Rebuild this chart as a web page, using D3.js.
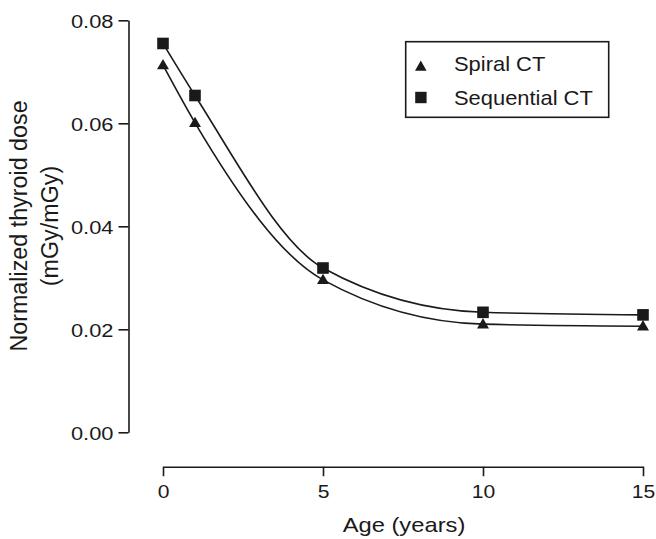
<!DOCTYPE html>
<html>
<head>
<meta charset="utf-8">
<script src="https://cdn.jsdelivr.net/npm/d3@7"></script>
<style>
  html, body { margin: 0; padding: 0; background: #fff; }
  svg { display: block; }
  text { font-family: "Liberation Sans", Arial, Helvetica, sans-serif; fill: #1a1a1a; }
</style>
</head>
<body>
<svg id="chart" width="656" height="539"></svg>
<script>
// ---- data ----
const ages = [0, 1, 5, 10, 15];
const spiralCT = [0.0713, 0.0601, 0.0296, 0.0210, 0.0206];
const sequentialCT = [0.0755, 0.0654, 0.0319, 0.0233, 0.0228];
const seriesNames = ["Spiral CT", "Sequential CT"];
const xTicks = [0, 5, 10, 15];
const yTicks = [0.00, 0.02, 0.04, 0.06, 0.08];
const xTitle = "Age (years)";
const yTitleLines = ["Normalized thyroid dose", "(mGy/mGy)"];

const svg = d3.select("#chart");
const ink = "#1a1a1a";

const x = d3.scaleLinear().domain([0, 15]).range([163, 643]);
const y = d3.scaleLinear().domain([0, 0.08]).range([432.3, 20.3]);

function stretch(sel, k) {
  sel.each(function () {
    const len = this.getComputedTextLength();
    d3.select(this).attr("textLength", len * k).attr("lengthAdjust", "spacingAndGlyphs");
  });
}

// Y axis
const yAxisG = svg.append("g").attr("transform", "translate(128.5,0)")
  .call(d3.axisLeft(y).tickValues(yTicks).tickFormat(d3.format(".2f")).tickSize(10).tickSizeOuter(0).tickPadding(5));
// X axis
const xAxisG = svg.append("g").attr("transform", "translate(0,466.7)")
  .call(d3.axisBottom(x).tickValues(xTicks).tickFormat(d3.format("d")).tickSize(9.5).tickSizeOuter(0).tickPadding(8));

[yAxisG, xAxisG].forEach(g => {
  g.select(".domain").attr("stroke", ink).attr("stroke-width", 1.6);
  g.selectAll(".tick line").attr("stroke", ink).attr("stroke-width", 1.6);
  g.selectAll(".tick text").attr("font-size", 19.2).attr("fill", ink)
    .style("font-family", '"Liberation Sans", Arial, sans-serif');
});
yAxisG.selectAll(".tick text").attr("dy", "0.35em");
xAxisG.selectAll(".tick text").attr("dy", "0.71em");
stretch(yAxisG.selectAll(".tick text"), 1.14);
stretch(xAxisG.selectAll(".tick text"), 1.1);

// axis titles
const xt = svg.append("text").attr("x", 404).attr("y", 532).attr("text-anchor", "middle")
  .attr("font-size", 21).text(xTitle);
stretch(xt, 1.13);

const yt = svg.append("text").attr("transform", "translate(0,226) rotate(-90)")
  .attr("text-anchor", "middle").attr("font-size", 23.3);
yt.selectAll("tspan").data(yTitleLines).join("tspan")
  .attr("x", 0).attr("y", (d, i) => i === 0 ? 27 : 58).text(d => d);

// curves
const line = d3.line().x(d => x(d[0])).y(d => y(d[1])).curve(d3.curveMonotoneX);
const seriesData = [spiralCT, sequentialCT].map(vals => ages.map((a, i) => [a, vals[i]]));
seriesData.forEach(pts => {
  svg.append("path").datum(pts).attr("d", line)
    .attr("fill", "none").attr("stroke", ink).attr("stroke-width", 1.6);
});

// markers
const triSym = d3.symbol().type(d3.symbolTriangle).size(62);
svg.append("g").selectAll("path").data(seriesData[0]).join("path")
  .attr("transform", d => `translate(${x(d[0])},${y(d[1]) + 0.8})`)
  .attr("d", triSym).attr("fill", ink);
svg.append("g").selectAll("rect").data(seriesData[1]).join("rect")
  .attr("x", d => x(d[0]) - 5.8).attr("y", d => y(d[1]) - 5.8)
  .attr("width", 11.6).attr("height", 11.6).attr("fill", ink);

// legend
const lg = svg.append("g");
lg.append("rect").attr("x", 405.7).attr("y", 41.7).attr("width", 203).attr("height", 75.6)
  .attr("fill", "#fff").attr("stroke", ink).attr("stroke-width", 1.6);
lg.append("path").attr("transform", "translate(420.8,67.3)").attr("d", d3.symbol().type(d3.symbolTriangle).size(58)).attr("fill", ink);
lg.append("rect").attr("x", 415.2).attr("y", 91.8).attr("width", 11.4).attr("height", 11.4).attr("fill", ink);
const lt = lg.selectAll("text.leg").data(seriesNames).join("text").attr("class", "leg")
  .attr("x", 454).attr("y", (d, i) => i === 0 ? 71 : 105).attr("font-size", 20.3).text(d => d);
stretch(lt, 1.08);
</script>
</body>
</html>
